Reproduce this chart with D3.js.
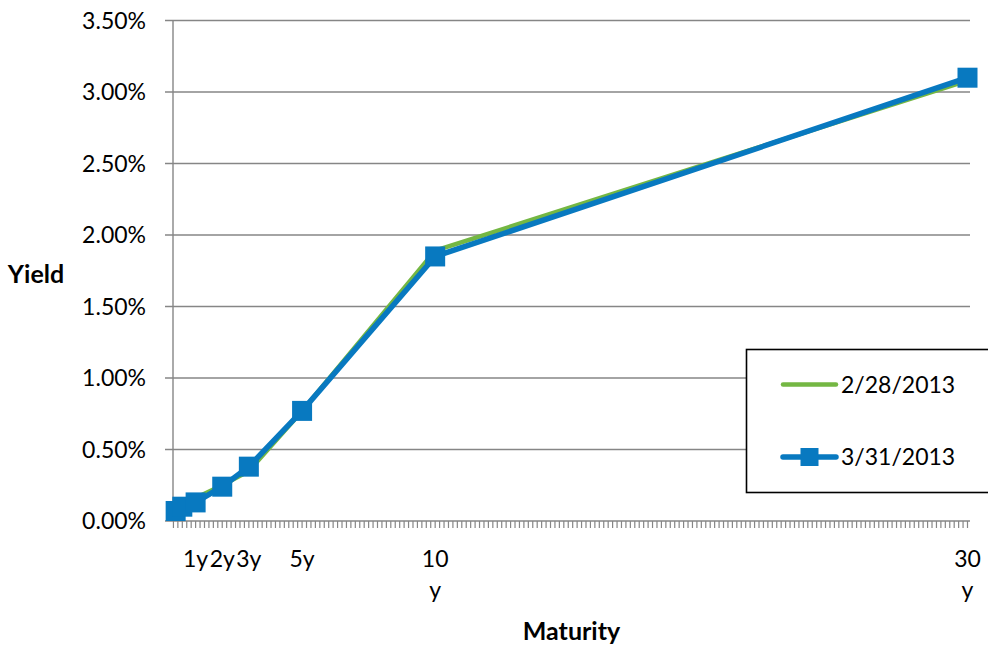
<!DOCTYPE html>
<html>
<head>
<meta charset="utf-8">
<script src="https://cdn.jsdelivr.net/npm/d3@7"></script>
<style>
  html, body { margin: 0; padding: 0; background: #fff; }
  svg { display: block; font-family: Lato, "Open Sans", sans-serif; }
</style>
</head>
<body>
<svg id="chart" width="988" height="647"></svg>
<script>
// Treasury yield curve: maturity in months, yield in percent
const maturityMonths = [3, 6, 12, 24, 36, 60, 120, 360];
const seriesNames = ["2/28/2013", "3/31/2013"];
const yieldsFeb = [0.11, 0.13, 0.16, 0.25, 0.35, 0.77, 1.89, 3.08];
const yieldsMar = [0.07, 0.10, 0.13, 0.24, 0.38, 0.77, 1.85, 3.10];
const yTicks = [0, 0.5, 1, 1.5, 2, 2.5, 3, 3.5];
const xLabelMonths = [12, 24, 36, 60, 120, 360];
const xLabels = ["1y", "2y", "3y", "5y", "10 y", "30 y"];

const colors = { feb: "#74B743", mar: "#0879C0", grid: "#868686", text: "#000" };
const fontSize = 23;
const titleSize = 25;

const svg = d3.select("#chart");
const plot = { left: 173, right: 970, top: 20.5, bottom: 521 };

const x = d3.scaleLinear().domain([0, 360]).range([169, 967.5]);
const y = d3.scaleLinear().domain([0, 3.5]).range([plot.bottom, plot.top]);

// horizontal gridlines and the value axis
const gy = svg.append("g");
gy.selectAll("line.grid")
  .data(yTicks)
  .join("line")
  .attr("x1", plot.left - 8)
  .attr("x2", plot.right)
  .attr("y1", d => y(d))
  .attr("y2", d => y(d))
  .attr("stroke", colors.grid)
  .attr("stroke-width", 1.4);
gy.append("line")
  .attr("x1", plot.left).attr("x2", plot.left)
  .attr("y1", y(3.5)).attr("y2", y(0))
  .attr("stroke", colors.grid).attr("stroke-width", 1.4);
gy.selectAll("text")
  .data(yTicks)
  .join("text")
  .attr("x", 146)
  .attr("y", d => y(d))
  .attr("dy", "0.36em")
  .attr("text-anchor", "end")
  .attr("font-size", fontSize)
  .attr("fill", colors.text)
  .text(d => d3.format(".2%")(d / 100));

// category tick comb along the maturity axis (every two months)
const combTicks = d3.range(2, 361, 2).filter(m => x(m) >= plot.left && x(m) <= plot.right);
svg.append("g")
  .selectAll("line")
  .data(combTicks)
  .join("line")
  .attr("x1", d => x(d)).attr("x2", d => x(d))
  .attr("y1", plot.bottom).attr("y2", plot.bottom + 7)
  .attr("stroke", colors.grid)
  .attr("stroke-width", 1.2);

// maturity labels, wrapped at the space
const xl = svg.append("g");
xLabels.forEach((lab, i) => {
  const t = xl.append("text")
    .attr("x", x(xLabelMonths[i]))
    .attr("y", 567)
    .attr("text-anchor", "middle")
    .attr("font-size", fontSize)
    .attr("fill", colors.text);
  lab.split(" ").forEach((part, k) => {
    t.append("tspan")
      .attr("x", x(xLabelMonths[i]))
      .attr("dy", k === 0 ? 0 : 31)
      .text(part);
  });
});

// axis titles
svg.append("text")
  .attr("x", 36).attr("y", 283)
  .attr("text-anchor", "middle")
  .attr("font-size", titleSize).attr("font-weight", "bold")
  .attr("fill", colors.text)
  .text("Yield");
svg.append("text")
  .attr("x", (plot.left + plot.right) / 2).attr("y", 640)
  .attr("text-anchor", "middle")
  .attr("font-size", titleSize).attr("font-weight", "bold")
  .attr("fill", colors.text)
  .text("Maturity");

// series lines
const line = d3.line()
  .x(d => x(d[0]))
  .y(d => y(d[1]));

const febPts = maturityMonths.map((m, i) => [m, yieldsFeb[i]]);
const marPts = maturityMonths.map((m, i) => [m, yieldsMar[i]]);

svg.append("path")
  .datum(febPts)
  .attr("d", line)
  .attr("fill", "none")
  .attr("stroke", colors.feb)
  .attr("stroke-width", 4.5)
  .attr("stroke-linejoin", "round");

svg.append("path")
  .datum(marPts)
  .attr("d", line)
  .attr("fill", "none")
  .attr("stroke", colors.mar)
  .attr("stroke-width", 5.5)
  .attr("stroke-linejoin", "round");

const mSize = 20;
svg.append("g")
  .selectAll("rect")
  .data(marPts)
  .join("rect")
  .attr("x", d => x(d[0]) - mSize / 2)
  .attr("y", d => y(d[1]) - mSize / 2)
  .attr("width", mSize)
  .attr("height", mSize)
  .attr("fill", colors.mar);

// legend
const lg = svg.append("g");
lg.append("rect")
  .attr("x", 746.5).attr("y", 349.5)
  .attr("width", 260).attr("height", 143)
  .attr("fill", "#fff")
  .attr("stroke", "#000")
  .attr("stroke-width", 1.6);
const legendRows = [
  { name: seriesNames[0], color: colors.feb, width: 4.5, marker: false, cy: 384.5 },
  { name: seriesNames[1], color: colors.mar, width: 5.5, marker: true, cy: 457 }
];
legendRows.forEach(r => {
  lg.append("line")
    .attr("x1", 783).attr("x2", 836)
    .attr("y1", r.cy).attr("y2", r.cy)
    .attr("stroke", r.color)
    .attr("stroke-width", r.width)
    .attr("stroke-linecap", "round");
  if (r.marker) {
    lg.append("rect")
      .attr("x", 809.5 - 9).attr("y", r.cy - 9)
      .attr("width", 18).attr("height", 18)
      .attr("fill", r.color);
  }
  lg.append("text")
    .attr("x", 841).attr("y", r.cy)
    .attr("dy", "0.36em")
    .attr("font-size", fontSize)
    .attr("fill", colors.text)
    .text(r.name);
});
</script>
</body>
</html>
